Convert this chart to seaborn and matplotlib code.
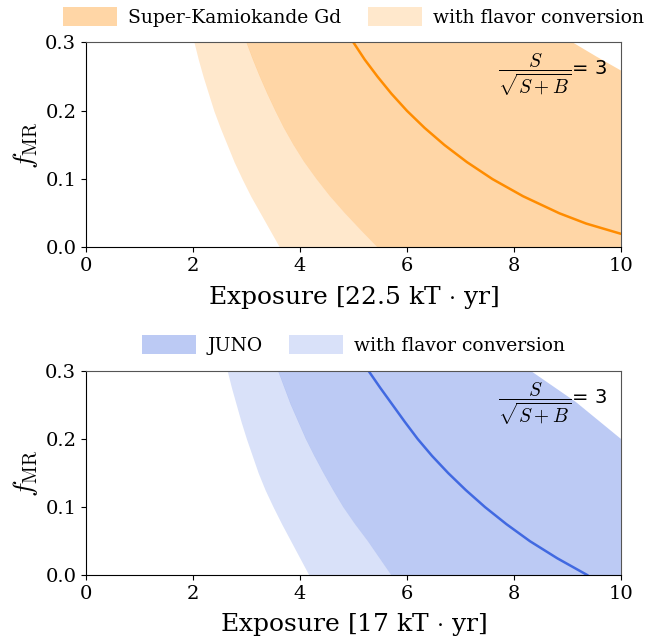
import numpy as np
import matplotlib
matplotlib.use("Agg")
import matplotlib.pyplot as plt
import seaborn as sns

# --- data (exposure values at given f_MR) ---
F_GRID = [0.300, 0.275, 0.250, 0.225, 0.200, 0.175, 0.150, 0.125, 0.100, 0.075, 0.050, 0.025, 0.000]

# Super-Kamiokande Gd
SK_LIGHT_LEFT = [2.02, 2.10, 2.19, 2.29, 2.39, 2.51, 2.64, 2.77, 2.92, 3.08, 3.26, 3.44, 3.62]
SK_DARK_LEFT = [3.00, 3.12, 3.25, 3.39, 3.54, 3.70, 3.88, 4.08, 4.31, 4.56, 4.84, 5.14, 5.45]
SK_DARK_RIGHT_F = [0.300, 0.279, 0.259]
SK_DARK_RIGHT_X = [9.10, 9.55, 10.0]
SK_LINE_F = [0.300, 0.275, 0.250, 0.225, 0.200, 0.175, 0.150, 0.125, 0.100, 0.075, 0.050, 0.035, 0.020]
SK_LINE_X = [5.00, 5.21, 5.45, 5.71, 6.00, 6.33, 6.70, 7.12, 7.60, 8.17, 8.85, 9.35, 10.0]

# JUNO
JUNO_LIGHT_LEFT = [2.64, 2.72, 2.81, 2.90, 3.00, 3.11, 3.22, 3.35, 3.50, 3.66, 3.83, 4.00, 4.17]
JUNO_DARK_LEFT = [3.59, 3.71, 3.83, 3.97, 4.11, 4.27, 4.44, 4.62, 4.81, 5.03, 5.27, 5.49, 5.71]
JUNO_DARK_RIGHT_F = [0.300, 0.254, 0.200]
JUNO_DARK_RIGHT_X = [8.31, 9.16, 10.0]
JUNO_LINE_F = [0.300, 0.275, 0.250, 0.225, 0.200, 0.175, 0.150, 0.125, 0.100, 0.075, 0.050, 0.025, 0.000]
JUNO_LINE_X = [5.28, 5.50, 5.73, 5.96, 6.20, 6.47, 6.77, 7.10, 7.46, 7.86, 8.30, 8.81, 9.38]

X_TICKS = [0, 2, 4, 6, 8, 10]
Y_TICKS = [0.0, 0.1, 0.2, 0.3]

sns.set_style("ticks")
plt.rcParams["font.family"] = ["DejaVu Serif"]
plt.rcParams["mathtext.fontset"] = "cm"
plt.rcParams["xtick.labelsize"] = 14
plt.rcParams["ytick.labelsize"] = 14
for key in ["text.color", "axes.labelcolor", "xtick.color", "ytick.color"]:
    plt.rcParams[key] = "black"


def panel(ax, light_left, dark_left, right_f, right_x, line_f, line_x, color, name, xlabel):
    f = np.array(F_GRID)
    # light band: with flavor conversion
    ax.fill_betweenx(f, light_left, dark_left, color=color, alpha=0.2, lw=0,
                     label="with flavor conversion")
    # dark band: polygon from left edge, along top, down the right edge
    xmax = X_TICKS[-1]
    poly_x = list(dark_left[::-1]) + list(right_x) + [xmax]
    poly_y = list(f[::-1]) + list(right_f) + [0.0]
    ax.fill(poly_x, poly_y, color=color, alpha=0.35, lw=0, label=name)
    sns.lineplot(x=line_x, y=line_f, sort=False, color=color, lw=1.8, ax=ax)

    ax.set_xlim(0, 10)
    ax.set_ylim(0, 0.3)
    ax.set_xticks(X_TICKS)
    ax.set_yticks(Y_TICKS)
    ax.set_xlabel(xlabel, fontsize=18, labelpad=6)
    ax.set_ylabel(r"$f_{\rm MR}$", fontsize=20, labelpad=4)
    for side in ["top", "right"]:
        ax.spines[side].set_color("#555555")
    for side in ["left", "bottom"]:
        ax.spines[side].set_color("black")

    ax.text(0.975, 0.84, r"$\dfrac{S}{\sqrt{S+B}}$= 3", transform=ax.transAxes,
            ha="right", va="center", fontsize=14, family="DejaVu Sans")

    handles, labels = ax.get_legend_handles_labels()
    order = [labels.index(name), labels.index("with flavor conversion")]
    ax.legend([handles[i] for i in order], [labels[i] for i in order],
              loc="lower center", bbox_to_anchor=(0.5, 1.0), ncol=2, frameon=False,
              fontsize=13.5, handlelength=2.9, handleheight=1.2, columnspacing=1.4,
              handletextpad=0.6, borderaxespad=0.45)


fig = plt.figure(figsize=(6.5, 6.37), dpi=100)
ax1 = fig.add_axes([0.1323, 0.6115, 0.823, 0.3218])
ax2 = fig.add_axes([0.1323, 0.0968, 0.823, 0.3212])

panel(ax1, SK_LIGHT_LEFT, SK_DARK_LEFT, SK_DARK_RIGHT_F, SK_DARK_RIGHT_X,
      SK_LINE_F, SK_LINE_X, "darkorange", "Super-Kamiokande Gd",
      r"Exposure [22.5 kT $\cdot$ yr]")
panel(ax2, JUNO_LIGHT_LEFT, JUNO_DARK_LEFT, JUNO_DARK_RIGHT_F, JUNO_DARK_RIGHT_X,
      JUNO_LINE_F, JUNO_LINE_X, "royalblue", "JUNO",
      r"Exposure [17 kT $\cdot$ yr]")

fig.savefig("out.png", dpi=100)
